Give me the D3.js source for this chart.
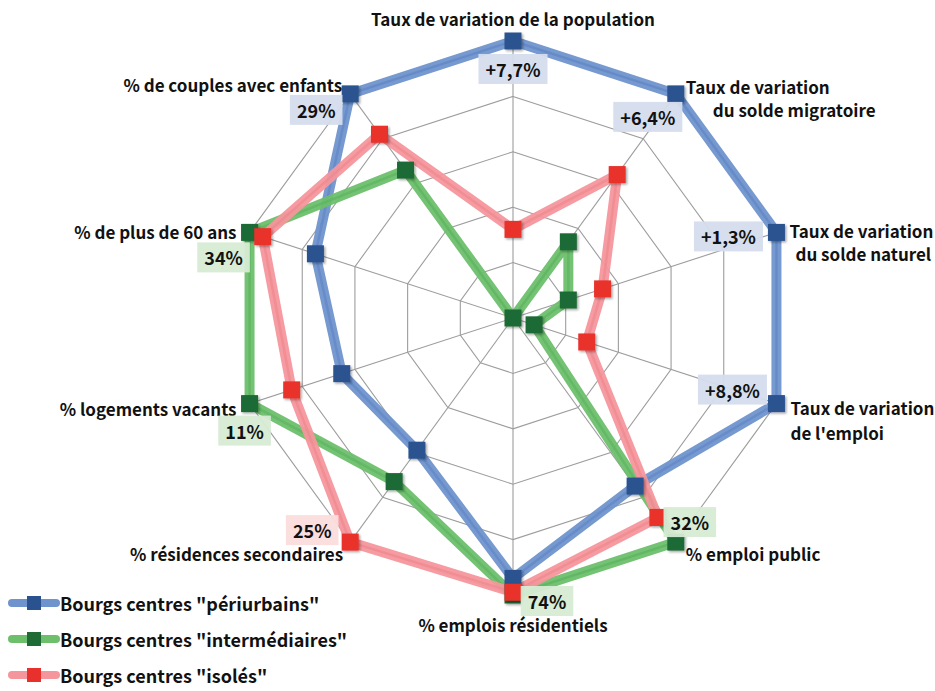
<!DOCTYPE html>
<html>
<head>
<meta charset="utf-8">
<script src="https://cdn.jsdelivr.net/npm/d3@7"></script>
<style>
  html, body { margin: 0; padding: 0; background: #fff; }
  svg { display: block; font-family: "Noto Sans CJK JP", "Noto Sans", sans-serif; }
</style>
</head>
<body>
<svg id="chart" width="935" height="691"></svg>
<script>
// ---------- DATA ----------
const categories = [
  ["Taux de variation de la population"],
  ["Taux de variation", "du solde migratoire"],
  ["Taux de variation", "du solde naturel"],
  ["Taux de variation", "de l'emploi"],
  ["% emploi public"],
  ["% emplois résidentiels"],
  ["% résidences secondaires"],
  ["% logements vacants"],
  ["% de plus de 60 ans"],
  ["% de couples avec enfants"]
];
const seriesNames = ['Bourgs centres "périurbains"', 'Bourgs centres "intermédiaires"', 'Bourgs centres "isolés"'];
const periurbains    = [100, 100, 100, 100, 75, 94, 59, 65, 75, 100];
const intermediaires = [0, 34, 21, 8, 100, 100, 73, 100, 100, 66];
const isoles         = [32, 64, 34, 28, 89, 99, 100, 84, 95, 82];
const gridTicks = [20, 40, 60, 80, 100];
// value annotations: [series index, axis index, text]
const annotations = [
  [0, 0, "+7,7%"], [0, 1, "+6,4%"], [0, 2, "+1,3%"], [0, 3, "+8,8%"],
  [1, 4, "32%"], [1, 5, "74%"], [2, 6, "25%"], [1, 7, "11%"],
  [1, 8, "34%"], [0, 9, "29%"]
];

// ---------- STYLE / LAYOUT ----------
const cx = 513, cy = 318, R = 277;
const band   = ["#6f93cc", "#6dbf6c", "#f4969c"];
const core   = ["#5d83c4", "#58b25c", "#ef858c"];
const marker = ["#2a528f", "#1f6b35", "#e8302c"];
const boxFill = ["#d5ddee", "#d6ebd4", "#fbdcdc"];
// category label layout per axis: anchor, and [dx, dy] of each line from the outer vertex
const catLayout = [
  ["middle", [[0, -23]]],
  ["start",  [[10, -7], [37, 16]]],
  ["start",  [[13, -2], [19, 21]]],
  ["start",  [[14, 4], [14, 29]]],
  ["start",  [[10, 11]]],
  ["middle", [[0, 29]]],
  ["end",    [[-7, 11]]],
  ["end",    [[-13, 5]]],
  ["end",    [[-13, -1]]],
  ["end",    [[-8, -9]]]
];
// annotation offsets from its marker [dx, dy]
const annLayout = [[0, 28], [-28, 23], [-48, 4], [-44, -14], [14, -20], [34, 6], [-38, -12], [-5, 27], [-26, 25], [-34, 16]];

// ---------- SCALES ----------
const n = categories.length;
const angle = d3.scaleLinear().domain([0, n]).range([0, 2 * Math.PI]);
const r = d3.scaleLinear().domain([0, 100]).range([0, R]);
const pt = (i, v) => [cx + r(v) * Math.sin(angle(i)), cy - r(v) * Math.cos(angle(i))];

const svg = d3.select("#chart");
const defs = svg.append("defs");
const f = defs.append("filter").attr("id", "sh").attr("x", "-50%").attr("y", "-50%").attr("width", "200%").attr("height", "200%");
f.append("feDropShadow").attr("dx", 1.5).attr("dy", 1.5).attr("stdDeviation", 1.2).attr("flood-color", "#000").attr("flood-opacity", 0.35);

// grid
const grid = svg.append("g");
gridTicks.forEach(t => {
  grid.append("path")
    .attr("d", d3.line()(d3.range(n).map(i => pt(i, t))) + "Z")
    .attr("fill", "none").attr("stroke", "#9d9d9d").attr("stroke-width", 1.1);
});
d3.range(n).forEach(i => {
  const p = pt(i, 100);
  grid.append("line").attr("x1", cx).attr("y1", cy).attr("x2", p[0]).attr("y2", p[1])
    .attr("stroke", "#9d9d9d").attr("stroke-width", 1.1);
});

// series
const allSeries = [periurbains, intermediaires, isoles];
const lineGen = d3.lineRadial().angle((d, i) => angle(i)).radius(d => r(d)).curve(d3.curveLinearClosed);
allSeries.forEach((vals, s) => {
  const g = svg.append("g").attr("transform", `translate(${cx},${cy})`);
  g.append("path").attr("d", lineGen(vals)).attr("fill", "none")
    .attr("stroke", band[s]).attr("stroke-width", 10).attr("stroke-linejoin", "round").attr("opacity", 0.95);
  g.append("path").attr("d", lineGen(vals)).attr("fill", "none")
    .attr("stroke", core[s]).attr("stroke-width", 2.5).attr("stroke-linejoin", "round").attr("opacity", 0.6);
});
allSeries.forEach((vals, s) => {
  svg.append("g").selectAll("rect").data(vals).join("rect")
    .attr("x", (d, i) => pt(i, d)[0] - 8.5).attr("y", (d, i) => pt(i, d)[1] - 8.5)
    .attr("width", 17).attr("height", 17).attr("fill", marker[s]).attr("filter", "url(#sh)");
});

// category labels
categories.forEach((lines, i) => {
  const [ax, ay] = pt(i, 100);
  const [anchor, offs] = catLayout[i];
  lines.forEach((txt, k) => {
    svg.append("text").attr("x", ax + offs[k][0]).attr("y", ay + offs[k][1])
      .attr("text-anchor", anchor).attr("dominant-baseline", "central")
      .attr("font-size", 17).attr("font-weight", 700).attr("fill", "#111").text(txt);
  });
});

// annotations
annotations.forEach(([s, i, txt], k) => {
  const p = pt(i, allSeries[s][i]);
  const x = p[0] + annLayout[k][0], y = p[1] + annLayout[k][1];
  const g = svg.append("g");
  const t = g.append("text").attr("x", x).attr("y", y).attr("text-anchor", "middle")
    .attr("dominant-baseline", "central").attr("font-size", 18).attr("font-weight", 700)
    .attr("fill", "#111").text(txt);
  const w = t.node().getComputedTextLength();
  g.insert("rect", "text").attr("x", x - w / 2 - 7).attr("y", y - 15).attr("width", w + 14).attr("height", 30)
    .attr("fill", boxFill[s]).attr("opacity", 0.95);
});

// legend
const leg = svg.append("g");
seriesNames.forEach((name, s) => {
  const y = 603 + s * 36;
  leg.append("line").attr("x1", 12).attr("x2", 56).attr("y1", y).attr("y2", y)
    .attr("stroke", band[s]).attr("stroke-width", 8).attr("stroke-linecap", "round");
  leg.append("rect").attr("x", 27).attr("y", y - 7).attr("width", 14).attr("height", 14).attr("fill", marker[s]);
  leg.append("text").attr("x", 60).attr("y", y).attr("dominant-baseline", "central")
    .attr("font-size", 18).attr("font-weight", 700).attr("fill", "#111").text(name);
});
</script>
</body>
</html>
